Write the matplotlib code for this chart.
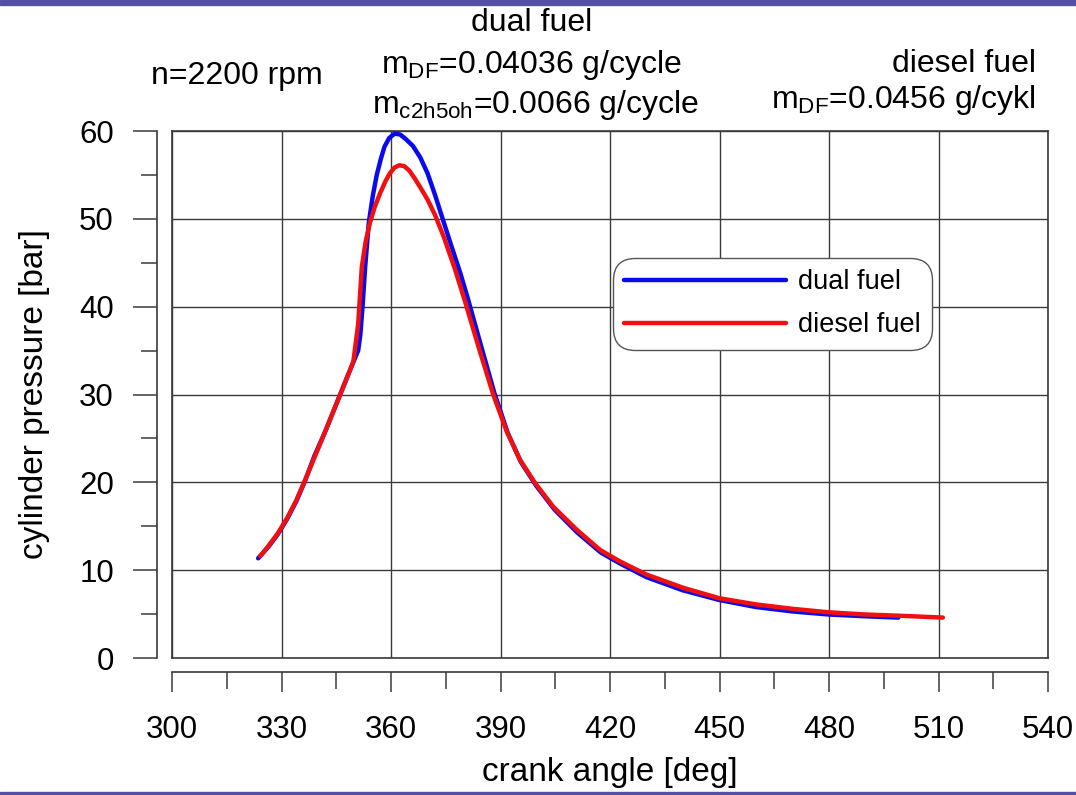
import matplotlib
matplotlib.use("Agg")
import matplotlib.pyplot as plt
from matplotlib.ticker import MultipleLocator
from matplotlib.patches import Rectangle

plt.rcParams['font.family'] = ['Liberation Sans', 'DejaVu Sans']
plt.rcParams['mathtext.default'] = 'regular'

# ---- data ----
dual_angle = [323.6, 326.5, 329, 331.5, 334, 336.4, 339, 342, 345, 348, 350, 351.0,
              351.6, 352.2, 352.9, 353.9, 355.0, 356.1, 357.2, 358.2, 359.5, 361.0,
              362.5, 364.0, 366.0, 368.0, 370.0, 372.0, 374.0, 376.0, 379.0, 381.0,
              384.5, 388.3, 392.0, 395.6, 399.8, 404.8, 411.0, 417.5, 423.0, 430,
              440, 450, 460, 470, 480, 490, 499]
dual_p = [11.35, 12.7, 14.1, 15.8, 17.8, 20.1, 23.0, 25.8, 28.9, 32.0, 34.0, 35.0,
          36.8, 40.0, 44.4, 49.5, 52.6, 55.0, 56.8, 58.2, 59.2, 59.7,
          59.6, 59.1, 58.3, 57.0, 55.2, 52.8, 50.2, 47.6, 43.8, 41.0,
          35.8, 30.2, 25.6, 22.3, 19.6, 16.9, 14.3, 12.0, 10.7, 9.2,
          7.7, 6.6, 5.8, 5.3, 4.95, 4.75, 4.6]

diesel_angle = [324.2, 326.5, 329, 331.5, 334, 336.4, 341, 346, 348.8, 349.7, 351.0,
                352.0, 353.0, 354.2, 355.5, 357.0, 358.5, 359.7, 361.0, 362.3, 363.6,
                365.0, 366.5, 368.0, 370.0, 372.0, 374.5, 377.5, 380.5, 384.0, 388.0,
                391.7, 395.3, 399.5, 404.5, 410.9, 417.3, 422.7, 430, 440, 450, 460,
                470, 480, 490, 500, 511.2]
diesel_p = [11.6, 12.8, 14.2, 15.9, 17.9, 20.2, 24.8, 29.9, 32.8, 33.8, 38.0,
            44.5, 47.3, 49.5, 51.3, 52.9, 54.3, 55.2, 55.85, 56.1, 56.0,
            55.5, 54.6, 53.6, 52.2, 50.5, 47.9, 44.3, 40.3, 35.4, 30.0,
            25.8, 22.6, 19.9, 17.2, 14.6, 12.3, 11.0, 9.5, 8.0, 6.8, 6.1,
            5.6, 5.2, 4.95, 4.8, 4.6]

series_labels = ["dual fuel", "diesel fuel"]
x_ticks = [300, 330, 360, 390, 420, 450, 480, 510, 540]
y_ticks = [0, 10, 20, 30, 40, 50, 60]

W, H = 1076, 795
fig = plt.figure(figsize=(W / 100, H / 100), dpi=100)
fig.patch.set_facecolor('white')

def fx(px):
    return px / W

def fy(py):
    return 1 - py / H

# purple bars top and bottom
bar_col = '#5252a3'
fig.patches.append(Rectangle((0, fy(5)), 1, 5 / H, transform=fig.transFigure,
                             color=bar_col, zorder=0))
fig.patches.append(Rectangle((0, 0), 1, 3 / H, transform=fig.transFigure,
                             color=bar_col, zorder=0))

ax = fig.add_axes([fx(172), fy(658), 876 / W, 527 / H])
ax.set_xlim(300, 540)
ax.set_ylim(0, 60)

line_col = '#3a3a3a'
ax.plot(dual_angle, dual_p, color='#0a0aef', lw=3.2, label=series_labels[0],
        solid_joinstyle='round', solid_capstyle='round', zorder=3)
ax.plot(diesel_angle, diesel_p, color='#f01010', lw=3.2, label=series_labels[1],
        solid_joinstyle='round', solid_capstyle='round', zorder=4)

ax.set_xticks(x_ticks)
ax.set_yticks(y_ticks)
ax.xaxis.set_minor_locator(MultipleLocator(15))
ax.yaxis.set_minor_locator(MultipleLocator(5))
ax.grid(True, which='major', color=line_col, lw=1.0)

for s in ['top', 'right']:
    ax.spines[s].set_color(line_col)
    ax.spines[s].set_linewidth(1.2)
ax.spines['left'].set_position(('outward', 11))
ax.spines['bottom'].set_position(('outward', 10))
for s in ['left', 'bottom']:
    ax.spines[s].set_color(line_col)
    ax.spines[s].set_linewidth(1.2)
ax.axvline(300, color=line_col, lw=1.2, clip_on=False, zorder=2)
ax.axhline(0, color=line_col, lw=1.2, clip_on=False, zorder=2)

ax.tick_params(axis='y', which='major', direction='out', length=17.3, width=1.1,
               color=line_col, labelsize=22.5, pad=13.5)
ax.tick_params(axis='y', which='minor', direction='out', length=11.5, width=1.1,
               color=line_col)
ax.tick_params(axis='x', which='major', direction='out', length=14.4, width=1.1,
               color=line_col, labelsize=22.5, pad=16.5)
ax.tick_params(axis='x', which='minor', direction='out', length=12.2, width=1.1,
               color=line_col)

# axis labels
fig.text(fx(610), fy(772), "crank angle [deg]", ha='center', va='center', fontsize=24)
fig.text(fx(35), fy(394), "cylinder pressure [bar]", ha='center', va='center',
         rotation=90, fontsize=24)

# header annotations
fs = 23
fig.text(fx(532), fy(31), "dual fuel", ha='center', va='baseline', fontsize=fs)
fig.text(fx(532), fy(73), r"m$_{DF}$=0.04036 g/cycle", ha='center', va='baseline', fontsize=fs)
fig.text(fx(237), fy(84), "n=2200 rpm", ha='center', va='baseline', fontsize=fs)
fig.text(fx(535), fy(113), r"m$_{c2h5oh}$=0.0066 g/cycle", ha='center', va='baseline', fontsize=fs)
fig.text(fx(1036), fy(72), "diesel fuel", ha='right', va='baseline', fontsize=fs)
fig.text(fx(1036), fy(108), r"m$_{DF}$=0.0456 g/cykl", ha='right', va='baseline', fontsize=fs)

leg = ax.legend(loc='upper left', bbox_to_anchor=(fx(613), fy(258)),
                bbox_transform=fig.transFigure, borderaxespad=0, fontsize=19.5,
                handlelength=5.95, handletextpad=0.45, borderpad=0.42,
                labelspacing=0.62, fancybox=True, framealpha=1,
                edgecolor='#555555')
leg.get_frame().set_linewidth(1.0)
leg.get_frame().set_boxstyle('round,pad=0,rounding_size=0.8')
for h in leg.get_lines():
    h.set_linewidth(3.2)

fig.savefig('out.png', dpi=100, facecolor='white')
